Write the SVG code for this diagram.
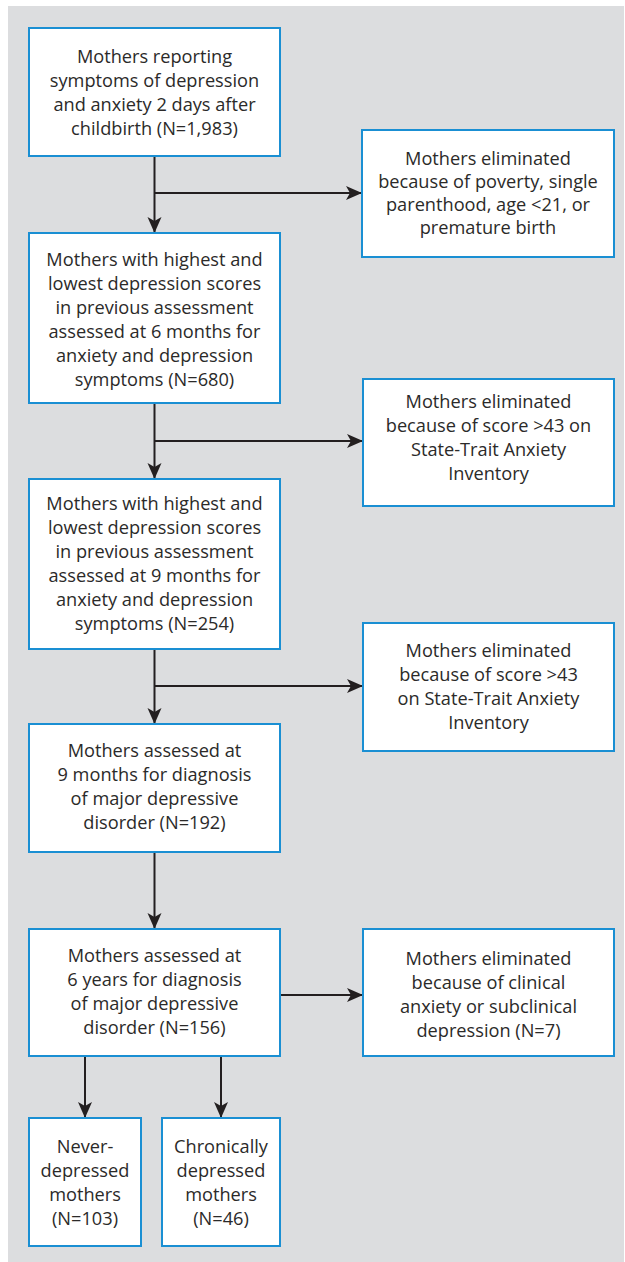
<svg xmlns="http://www.w3.org/2000/svg" width="625" height="1262" viewBox="0 0 625 1262">
<style>
.box{fill:#ffffff;stroke:#1a8fd3;stroke-width:2}
.t{font-family:"Open Sans","DejaVu Sans",sans-serif;font-size:18.2px;fill:#2b2a29;text-anchor:middle}
.c{stroke:#231f20;stroke-width:2;fill:none}
</style>
<defs>
<marker id="ah" markerUnits="userSpaceOnUse" markerWidth="16" markerHeight="16" viewBox="0 0 16 14" refX="15" refY="7" orient="auto">
<path d="M0,0 L16,7 L0,14 L4,7 z" fill="#231f20"/>
</marker>
</defs>
<rect x="8" y="6" width="616" height="1256" fill="#dcdddf"/>
<g id="connectors">
<line class="c" x1="154.5" y1="156" x2="154.5" y2="232" marker-end="url(#ah)"/>
<line class="c" x1="154.5" y1="193" x2="361" y2="193" marker-end="url(#ah)"/>
<line class="c" x1="154.5" y1="403" x2="154.5" y2="478" marker-end="url(#ah)"/>
<line class="c" x1="154.5" y1="441" x2="362" y2="441" marker-end="url(#ah)"/>
<line class="c" x1="154.5" y1="649" x2="154.5" y2="723" marker-end="url(#ah)"/>
<line class="c" x1="154.5" y1="686" x2="362" y2="686" marker-end="url(#ah)"/>
<line class="c" x1="154.5" y1="852" x2="154.5" y2="928" marker-end="url(#ah)"/>
<line class="c" x1="280" y1="995" x2="362" y2="995" marker-end="url(#ah)"/>
<line class="c" x1="85" y1="1056" x2="85" y2="1117" marker-end="url(#ah)"/>
<line class="c" x1="221" y1="1056" x2="221" y2="1117" marker-end="url(#ah)"/>
</g>
<g id="n1">
<rect class="box" x="29" y="28" width="251" height="128"/>
<text class="t" x="154.5" y="63">Mothers reporting</text>
<text class="t" x="154.5" y="87">symptoms of depression</text>
<text class="t" x="154.5" y="111">and anxiety 2 days after</text>
<text class="t" x="154.5" y="135">childbirth (N=1,983)</text>
</g>
<g id="e1">
<rect class="box" x="362" y="130" width="252" height="127"/>
<text class="t" x="488" y="165">Mothers eliminated</text>
<text class="t" x="488" y="188">because of poverty, single</text>
<text class="t" x="488" y="211">parenthood, age &lt;21, or</text>
<text class="t" x="488" y="234">premature birth</text>
</g>
<g id="n2">
<rect class="box" x="29" y="233" width="251" height="170"/>
<text class="t" x="154.5" y="266">Mothers with highest and</text>
<text class="t" x="154.5" y="290">lowest depression scores</text>
<text class="t" x="154.5" y="314">in previous assessment</text>
<text class="t" x="154.5" y="338">assessed at 6 months for</text>
<text class="t" x="154.5" y="362">anxiety and depression</text>
<text class="t" x="154.5" y="386">symptoms (N=680)</text>
</g>
<g id="e2">
<rect class="box" x="363" y="379" width="251" height="127"/>
<text class="t" x="488.5" y="408">Mothers eliminated</text>
<text class="t" x="488.5" y="432">because of score &gt;43 on</text>
<text class="t" x="488.5" y="456">State-Trait Anxiety</text>
<text class="t" x="488.5" y="480">Inventory</text>
</g>
<g id="n3">
<rect class="box" x="29" y="479" width="251" height="170"/>
<text class="t" x="154.5" y="510">Mothers with highest and</text>
<text class="t" x="154.5" y="534">lowest depression scores</text>
<text class="t" x="154.5" y="558">in previous assessment</text>
<text class="t" x="154.5" y="582">assessed at 9 months for</text>
<text class="t" x="154.5" y="606">anxiety and depression</text>
<text class="t" x="154.5" y="630">symptoms (N=254)</text>
</g>
<g id="e3">
<rect class="box" x="363" y="623" width="251" height="128"/>
<text class="t" x="488.5" y="657">Mothers eliminated</text>
<text class="t" x="488.5" y="681">because of score &gt;43</text>
<text class="t" x="488.5" y="705">on State-Trait Anxiety</text>
<text class="t" x="488.5" y="729">Inventory</text>
</g>
<g id="n4">
<rect class="box" x="29" y="724" width="251" height="128"/>
<text class="t" x="154.5" y="757">Mothers assessed at</text>
<text class="t" x="154.5" y="781">9 months for diagnosis</text>
<text class="t" x="154.5" y="805">of major depressive</text>
<text class="t" x="154.5" y="829">disorder (N=192)</text>
</g>
<g id="n5">
<rect class="box" x="29" y="929" width="251" height="127"/>
<text class="t" x="154.5" y="962">Mothers assessed at</text>
<text class="t" x="154.5" y="986">6 years for diagnosis</text>
<text class="t" x="154.5" y="1010">of major depressive</text>
<text class="t" x="154.5" y="1034">disorder (N=156)</text>
</g>
<g id="e4">
<rect class="box" x="363" y="929" width="251" height="127"/>
<text class="t" x="488.5" y="965">Mothers eliminated</text>
<text class="t" x="488.5" y="989">because of clinical</text>
<text class="t" x="488.5" y="1013">anxiety or subclinical</text>
<text class="t" x="488.5" y="1037">depression (N=7)</text>
</g>
<g id="n6">
<rect class="box" x="29" y="1118" width="112" height="128"/>
<text class="t" x="85" y="1153">Never-</text>
<text class="t" x="85" y="1177">depressed</text>
<text class="t" x="85" y="1201">mothers</text>
<text class="t" x="85" y="1225">(N=103)</text>
</g>
<g id="n7">
<rect class="box" x="162" y="1118" width="118" height="128"/>
<text class="t" x="221" y="1153">Chronically</text>
<text class="t" x="221" y="1177">depressed</text>
<text class="t" x="221" y="1201">mothers</text>
<text class="t" x="221" y="1225">(N=46)</text>
</g>
</svg>
